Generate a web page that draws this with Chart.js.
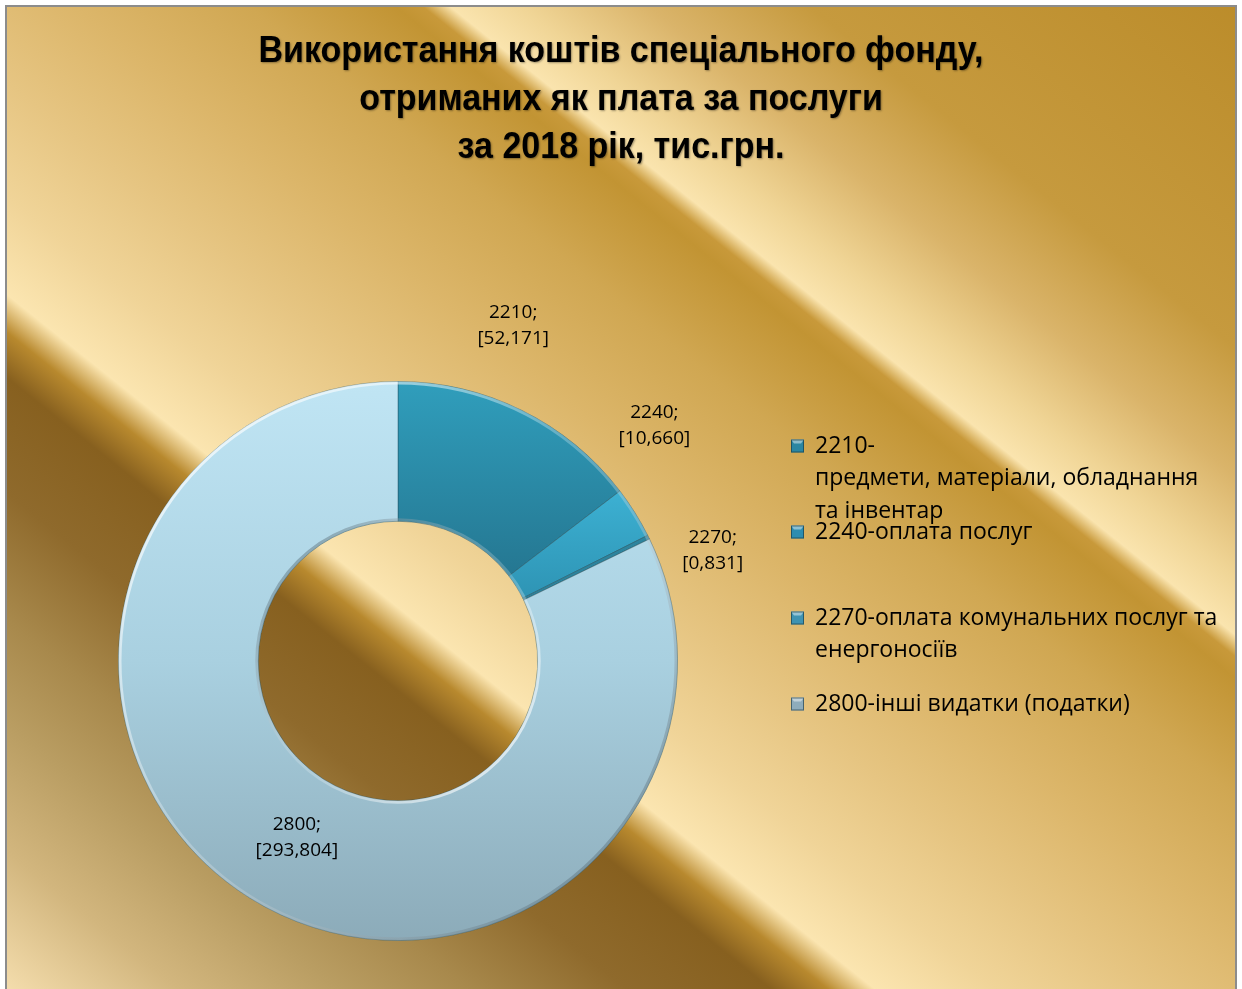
<!DOCTYPE html>
<html lang="uk">
<head>
<meta charset="utf-8">
<title>Використання коштів спеціального фонду</title>
<script src="https://cdn.jsdelivr.net/npm/chart.js@4.4.1/dist/chart.umd.min.js"></script>
<style>
    html, body { margin: 0; padding: 0; background: #ffffff; }
    #wrap { width: 1242px; height: 989px; }
</style>
</head>
<body>
<div id="wrap"><canvas id="fond-chart" width="1242" height="989"></canvas></div>
<script>
"use strict";

// données du graphique
const titleLines = [
    'Використання коштів спеціального фонду,',
    'отриманих як плата за послуги',
    'за 2018 рік, тис.грн.'
];
const categories = ['2210', '2240', '2270', '2800'];
const values = [52.171, 10.660, 0.831, 293.804];
const legendLabels = [
    ['2210-', 'предмети, матеріали, обладнання', 'та інвентар'],
    ['2240-оплата послуг'],
    ['2270-оплата комунальних послуг та', 'енергоносіїв'],
    ['2800-інші видатки (податки)']
];

// styles
const sliceStops = [
    [[0, '#309ebc'], [0.4, '#23718b'], [1, '#1d5e74']],
    [[0, '#40b6d8'], [0.2, '#3cb0d2'], [0.4, '#2d92b2'], [1, '#23748e']],
    [[0, '#2f88a2'], [1, '#2a7a92']],
    [[0, '#c0e5f4'], [0.5, '#a9d0e0'], [1, '#8cabb9']]
];
const legendColors = ['#2a86a2', '#2c8db0', '#3f93b2', '#8eacbb'];
// [décalage d'angle en degrés, rayon relatif au rayon extérieur]
const labelPlacement = [[-7.3, 1.268], [-10.5, 1.246], [7, 1.193], [-2.3, 0.729]];
const titleWidth = 725;

function formatValue(v) {
    return v.toFixed(3).replace('.', ',');
}

function sliceFill(context) {
    const chart = context.chart;
    const area = chart.chartArea;
    const stops = sliceStops[context.dataIndex];
    if (!area) {
        return stops[0][1];
    }
    const g = chart.ctx.createLinearGradient(0, area.top, 0, area.bottom);
    stops.forEach(s => g.addColorStop(s[0], s[1]));
    return g;
}

/**
 * Fond doré avec bandes diagonales et cadre gris
 */
const goldBackground = {
    id: 'goldBackground',
    beforeDraw(chart) {
        const {ctx, width, height} = chart;
        ctx.save();
        ctx.fillStyle = '#ffffff';
        ctx.fillRect(0, 0, width, height);

        const len = 1548;
        const g = ctx.createLinearGradient(0, height, 0.625 * len, height - 0.781 * len);
        g.addColorStop(0.000, '#f5deae');
        g.addColorStop(0.072, '#d2b67e');
        g.addColorStop(0.137, '#b99d62');
        g.addColorStop(0.189, '#a8894c');
        g.addColorStop(0.253, '#8f6a2c');
        g.addColorStop(0.311, '#87601f');
        g.addColorStop(0.334, '#b8892e');
        g.addColorStop(0.353, '#fbe5b0');
        g.addColorStop(0.402, '#f0d498');
        g.addColorStop(0.460, '#e6c582');
        g.addColorStop(0.525, '#dcb66a');
        g.addColorStop(0.596, '#d0a752');
        g.addColorStop(0.655, '#c29433');
        g.addColorStop(0.666, '#c8993a');
        g.addColorStop(0.677, '#fae4ae');
        g.addColorStop(0.706, '#f0d596');
        g.addColorStop(0.757, '#dab46a');
        g.addColorStop(0.822, '#c69a3e');
        g.addColorStop(1.000, '#bb8c2a');
        ctx.fillStyle = g;
        ctx.fillRect(6, 6, width - 12, height);

        ctx.strokeStyle = '#8c8c8c';
        ctx.lineWidth = 2;
        ctx.strokeRect(6, 6, width - 12, height + 20);
        ctx.restore();
    }
};

/**
 * Titre sur trois lignes (police étroite simulée)
 */
const titleText = {
    id: 'titleText',
    beforeDatasetsDraw(chart) {
        const {ctx, width} = chart;
        ctx.save();
        ctx.font = 'bold 36px "Liberation Sans", Arial, sans-serif';
        ctx.textAlign = 'center';
        ctx.textBaseline = 'middle';
        ctx.fillStyle = '#000000';
        ctx.shadowColor = 'rgba(0, 0, 0, 0.35)';
        ctx.shadowBlur = 2;
        ctx.shadowOffsetX = 1;
        ctx.shadowOffsetY = 1;
        const sx = titleWidth / ctx.measureText(titleLines[0]).width;
        titleLines.forEach((line, i) => {
            ctx.save();
            ctx.translate(width / 2, 52 + i * 48);
            ctx.scale(sx, 1);
            ctx.fillText(line, 0, 0);
            ctx.restore();
        });
        ctx.restore();
    }
};

/**
 * Relief de l'anneau + étiquettes de données
 */
const ringLabels = {
    id: 'ringLabels',
    afterDatasetsDraw(chart) {
        const {ctx} = chart;
        const meta = chart.getDatasetMeta(0);
        const first = meta.data[0];
        const {x, y, outerRadius, innerRadius} = first;

        ctx.save();
        // bord extérieur
        let g = ctx.createLinearGradient(x - outerRadius, y - outerRadius, x + outerRadius, y + outerRadius);
        g.addColorStop(0, 'rgba(255, 255, 255, 0.85)');
        g.addColorStop(0.45, 'rgba(255, 255, 255, 0.25)');
        g.addColorStop(1, 'rgba(40, 70, 85, 0.6)');
        ctx.beginPath();
        ctx.arc(x, y, outerRadius - 1.5, 0, Math.PI * 2);
        ctx.lineWidth = 3;
        ctx.strokeStyle = g;
        ctx.stroke();

        // bord intérieur
        g = ctx.createLinearGradient(x - innerRadius, y - innerRadius, x + innerRadius, y + innerRadius);
        g.addColorStop(0, 'rgba(40, 70, 85, 0.6)');
        g.addColorStop(0.55, 'rgba(255, 255, 255, 0.2)');
        g.addColorStop(1, 'rgba(255, 255, 255, 0.8)');
        ctx.beginPath();
        ctx.arc(x, y, innerRadius + 1.5, 0, Math.PI * 2);
        ctx.lineWidth = 3;
        ctx.strokeStyle = g;
        ctx.stroke();

        // étiquettes
        ctx.font = '19px "Open Sans", sans-serif';
        ctx.textAlign = 'center';
        ctx.textBaseline = 'middle';
        ctx.fillStyle = '#000000';
        meta.data.forEach((arc, i) => {
            const p = arc.getProps(['x', 'y', 'startAngle', 'endAngle', 'outerRadius'], true);
            const a = (p.startAngle + p.endAngle) / 2 + labelPlacement[i][0] * Math.PI / 180;
            const r = p.outerRadius * labelPlacement[i][1];
            const lx = p.x + r * Math.cos(a);
            const ly = p.y + r * Math.sin(a);
            ctx.fillText(categories[i] + ';', lx, ly - 13);
            ctx.fillText('[' + formatValue(values[i]) + ']', lx, ly + 13);
        });
        ctx.restore();
    }
};

/**
 * Légende à droite (libellés sur plusieurs lignes)
 */
const sideLegend = {
    id: 'sideLegend',
    afterDraw(chart) {
        const {ctx} = chart;
        const markerX = 791;
        const textX = 815;
        const firstY = 446;
        const itemGap = 86;
        const lineH = 32.5;
        const size = 13;

        ctx.save();
        ctx.font = '23px "Open Sans", sans-serif';
        ctx.textAlign = 'left';
        ctx.textBaseline = 'middle';
        legendLabels.forEach((lines, i) => {
            const cy = firstY + i * itemGap;
            const top = cy - size / 2;
            ctx.fillStyle = legendColors[i];
            ctx.fillRect(markerX, top, size, size);
            // petit biseau clair en haut
            ctx.fillStyle = 'rgba(255, 255, 255, 0.45)';
            ctx.beginPath();
            ctx.moveTo(markerX, top);
            ctx.lineTo(markerX + size, top);
            ctx.lineTo(markerX + size - 3, top + 4);
            ctx.lineTo(markerX + 3, top + 4);
            ctx.closePath();
            ctx.fill();
            ctx.strokeStyle = 'rgba(20, 50, 60, 0.6)';
            ctx.lineWidth = 1;
            ctx.strokeRect(markerX + 0.5, top + 0.5, size - 1, size - 1);

            ctx.fillStyle = '#000000';
            lines.forEach((t, j) => {
                ctx.fillText(t, textX, cy + j * lineH);
            });
        });
        ctx.restore();
    }
};

const ctx = document.getElementById('fond-chart');

const config = {
    type: 'doughnut',
    data: {
        labels: categories,
        datasets: [{
            data: values,
            backgroundColor: sliceFill,
            borderColor: 'rgba(30, 80, 100, 0.45)',
            borderWidth: 1,
            hoverOffset: 0,
            offset: 0
        }]
    },
    options: {
        responsive: false,
        animation: false,
        events: [],
        cutout: '50%',
        layout: {
            padding: {left: 118, right: 564, top: 381, bottom: 48}
        },
        plugins: {
            legend: {display: false},
            title: {display: false},
            tooltip: {enabled: false}
        }
    },
    plugins: [goldBackground, titleText, ringLabels, sideLegend]
};

const chart = new Chart(ctx, config);
</script>
</body>
</html>
